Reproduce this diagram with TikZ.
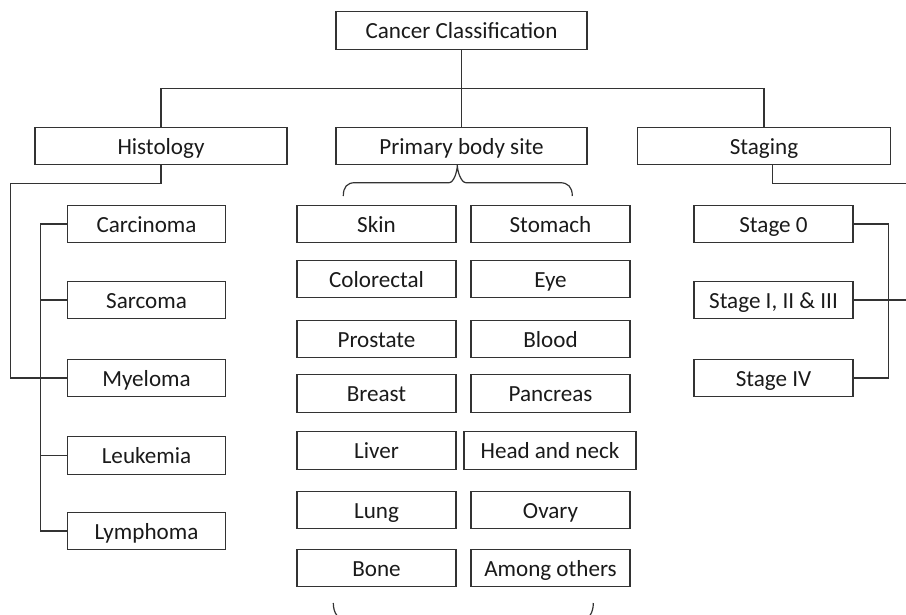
\documentclass[tikz,border=0pt]{standalone}
\usepackage{fontspec}
\setmainfont{Carlito}
\definecolor{lncol}{HTML}{333333}
\definecolor{txcol}{HTML}{1A1A1A}
\begin{document}
\begin{tikzpicture}[x=1pt,y=-1pt,
  cbox/.style={draw=lncol, line width=1.2pt, rectangle, inner sep=0pt,
    minimum height=37.5pt, text=txcol, text height=20pt, text depth=3.5pt,
    font=\fontsize{23.1}{27}\selectfont},
  conn/.style={draw=lncol, line width=1.2pt},
]
\useasboundingbox (0,0) rectangle (906,614);
\clip (0,0) rectangle (906,614);

% top level
\node[cbox, minimum width=251pt] (top) at (461.5,30.5) {Cancer Classification};
\node[cbox, minimum width=252pt] (hist) at (161,146) {Histology};
\node[cbox, minimum width=251pt] (prim) at (461.5,146) {Primary body site};
\node[cbox, minimum width=253pt] (stag) at (764,146) {Staging};

% histology column
\node[cbox, minimum width=158pt] (car) at (146.5,224) {Carcinoma};
\node[cbox, minimum width=158pt] (sar) at (146.5,300) {Sarcoma};
\node[cbox, minimum width=158pt] (mye) at (146.5,378) {Myeloma};
\node[cbox, minimum width=158pt] (leu) at (146.5,455.5) {Leukemia};
\node[cbox, minimum width=158pt] (lym) at (146.5,531) {Lymphoma};

% body site columns
\node[cbox, minimum width=159pt] (skin) at (376.5,224) {Skin};
\node[cbox, minimum width=159pt] (colo) at (376.5,279) {Colorectal};
\node[cbox, minimum width=159pt] (pros) at (376.5,339) {Prostate};
\node[cbox, minimum width=159pt] (brea) at (376.5,393.5) {Breast};
\node[cbox, minimum width=159pt] (live) at (376.5,450.5) {Liver};
\node[cbox, minimum width=159pt] (lung) at (376.5,510) {Lung};
\node[cbox, minimum width=159pt] (bone) at (376.5,568) {Bone};

\node[cbox, minimum width=159pt] (stom) at (550.5,224) {Stomach};
\node[cbox, minimum width=159pt] (eye)  at (550.5,279) {Eye};
\node[cbox, minimum width=159pt] (bloo) at (550.5,339) {Blood};
\node[cbox, minimum width=159pt] (panc) at (550.5,393.5) {Pancreas};
\node[cbox, minimum width=172pt] (head) at (550,450.5) {Head and neck};
\node[cbox, minimum width=159pt] (ovar) at (550.5,510) {Ovary};
\node[cbox, minimum width=159pt] (amon) at (550.5,568) {Among others};

% staging column
\node[cbox, minimum width=159pt] (s0) at (773.5,224) {Stage 0};
\node[cbox, minimum width=159pt] (s1) at (773.5,300) {Stage I, II \& III};
\node[cbox, minimum width=159pt] (s4) at (773.5,378) {Stage IV};

% coordinates
\coordinate (bar) at (461.5,88.3);
\coordinate (hl) at (10.7,183.5);
\coordinate (lbt) at (40.3,224);
\coordinate (lbb) at (40.3,531);
\coordinate (sr) at (906,183.5);
\coordinate (rbt) at (888.3,224);
\coordinate (rend) at (906,300);

% top connectors
\draw[conn] (top.south) -- (prim.north);
\draw[conn] (hist.north) |- (bar) -| (stag.north);

% histology connectors
\draw[conn] (hist.south) |- (hl) |- (mye.west);
\draw[conn] (car.west) -- (lbt) -- (lbb) -- (lym.west);
\draw[conn] (sar.west) -- (sar.west -| lbt);
\draw[conn] (leu.west) -- (leu.west -| lbt);

% staging connectors
\draw[conn] ([xshift=8.3pt]stag.south) |- (sr);
\draw[conn] (s0.east) -- (rbt) |- (s4.east);
\draw[conn] (s1.east) -- (rend);

% braces
\draw[conn] (343.3,196) .. controls (343.3,187) and (347,182.7) .. (355,182.7)
  -- (449,182.7) .. controls (454,182.7) and (457.3,171) .. (457.3,165)
  .. controls (457.3,171) and (461,182.7) .. (466,182.7)
  -- (560,182.7) .. controls (568,182.7) and (572.3,187) .. (572.3,196);
\draw[conn] (333.3,603) .. controls (333.3,613) and (338,620) .. (347,620)
  -- (455,620) .. controls (460,620) and (463.3,632) .. (463.3,638)
  .. controls (463.3,632) and (467,620) .. (472,620)
  -- (580,620) .. controls (589,620) and (593.3,613) .. (593.3,603);
\end{tikzpicture}
\end{document}
